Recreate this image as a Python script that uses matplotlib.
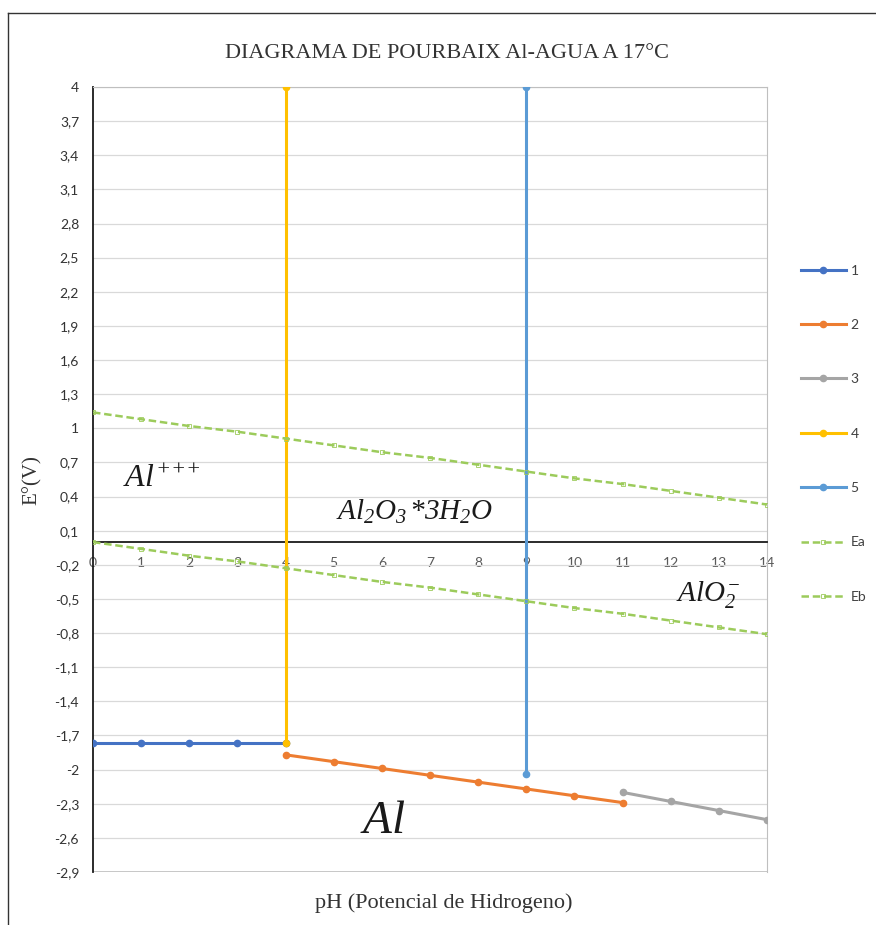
import matplotlib
matplotlib.use("Agg")
import matplotlib.pyplot as plt
from matplotlib.lines import Line2D
import numpy as np

# ---- data ----
x1 = [0, 1, 2, 3, 4]
y1 = [-1.77, -1.77, -1.77, -1.77, -1.77]
x2 = [4, 5, 6, 7, 8, 9, 10, 11]
y2 = [-1.87, -1.93, -1.99, -2.05, -2.11, -2.17, -2.23, -2.29]
x3 = [11, 12, 13, 14]
y3 = [-2.20, -2.28, -2.36, -2.44]
x4 = [4, 4]
y4 = [-1.77, 4.0]
x5 = [9, 9]
y5 = [-2.04, 4.0]
xE = [0, 1, 2, 3, 4, 5, 6, 7, 8, 9, 10, 11, 12, 13, 14]
yEa = [1.14, 1.08, 1.02, 0.97, 0.91, 0.85, 0.79, 0.74, 0.68, 0.62, 0.56, 0.51, 0.45, 0.39, 0.33]
yEb = [0.00, -0.06, -0.12, -0.17, -0.23, -0.29, -0.35, -0.40, -0.46, -0.52, -0.58, -0.63, -0.69, -0.75, -0.81]
series_labels = ["1", "2", "3", "4", "5", "Ea", "Eb"]
y_ticks = [round(-2.9 + 0.3 * i, 1) for i in range(24)]
x_ticks = list(range(15))
title = "DIAGRAMA DE POURBAIX Al-AGUA A 17°C"
xlabel = "pH (Potencial de Hidrogeno)"
ylabel = "E°(V)"

plt.rcParams['mathtext.fontset'] = 'custom'
plt.rcParams['mathtext.it'] = 'Liberation Serif:italic'
plt.rcParams['mathtext.rm'] = 'Liberation Serif:italic'
plt.rcParams['mathtext.default'] = 'it'

W, H = 876, 925
fig = plt.figure(figsize=(W / 100, H / 100), dpi=100)
L, R, T, B = 93, 767, 87, 872
ax = fig.add_axes([L / W, 1 - B / H, (R - L) / W, (B - T) / H])

c1, c2, c3, c4, c5, cg = "#4472C4", "#ED7D31", "#A5A5A5", "#FFC000", "#5B9BD5", "#9CCB5B"

ax.plot(x1, y1, color=c1, lw=2.2, marker='o', ms=4.5, label=series_labels[0], zorder=3)
ax.plot(x2, y2, color=c2, lw=2.2, marker='o', ms=4.5, label=series_labels[1], zorder=3)
ax.plot(x3, y3, color=c3, lw=2.2, marker='o', ms=4.5, label=series_labels[2], zorder=3)
ax.plot(x4, y4, color=c4, lw=2.2, marker='o', ms=4.5, label=series_labels[3], zorder=3)
ax.plot(x5, y5, color=c5, lw=2.2, marker='o', ms=4.5, label=series_labels[4], zorder=3)
ax.plot(xE, yEa, color=cg, lw=1.8, ls=(0, (3, 1.5)), marker='s', ms=3, mfc='none', mew=0.6,
        label=series_labels[5], zorder=4)
ax.plot(xE, yEb, color=cg, lw=1.8, ls=(0, (3, 1.5)), marker='s', ms=3, mfc='none', mew=0.6,
        label=series_labels[6], zorder=4)

ax.set_xlim(0, 14)
ax.set_ylim(-2.9, 4.0)
ax.set_yticks(y_ticks)
ax.set_yticklabels([("%g" % v).replace('.', ',') for v in y_ticks])
ax.set_xticks(x_ticks)
ax.set_xticklabels([str(v) for v in x_ticks])
ax.grid(axis='y', color='#D9D9D9', lw=0.9, zorder=0)
ax.set_axisbelow(True)

ax.spines['bottom'].set_position(('data', 0))
ax.spines['bottom'].set_color('#1a1a1a')
ax.spines['bottom'].set_linewidth(1.3)
ax.spines['left'].set_color('#1a1a1a')
ax.spines['left'].set_linewidth(1.3)
ax.spines['top'].set_color('#BFBFBF')
ax.spines['right'].set_color('#BFBFBF')
ax.axhline(-2.9, color='#BFBFBF', lw=1.2, zorder=1)

ax.tick_params(axis='x', length=0, pad=11, labelsize=10, labelcolor='#595959')
ax.tick_params(axis='y', length=0, pad=10, labelsize=10, labelcolor='#333333')
for lab in ax.get_xticklabels() + ax.get_yticklabels():
    lab.set_fontfamily('Lato')

# annotations
ax.text(0.62, 0.48, r'$Al^{{+}{+}{+}}$', fontsize=23, color='#1a1a1a', zorder=5)
ax.text(5.05, 0.2, r'$Al_2O_3\,{*}3H_2O$', fontsize=21, color='#1a1a1a', zorder=5)
ax.text(12.1, -0.52, r'$AlO_2^{-}$', fontsize=21, color='#1a1a1a', zorder=5)
ax.text(5.55, -2.56, r'$Al$', fontsize=34, color='#1a1a1a', zorder=5)

fig.text(447 / W, 1 - 53 / H, title, ha='center', va='center', fontsize=16,
         family='Liberation Serif', color='#333333')
fig.text(444 / W, 1 - 903 / H, xlabel, ha='center', va='center', fontsize=16,
         family='Liberation Serif', color='#333333')
fig.text(32 / W, 1 - 480 / H, ylabel, ha='center', va='center', rotation=90, fontsize=15,
         family='Liberation Serif', color='#333333')

leg = fig.legend(loc='upper left', bbox_to_anchor=(795 / W, 1 - 259 / H), frameon=False,
                 handlelength=3.3, labelspacing=3.05, handletextpad=0.3,
                 numpoints=1, borderaxespad=0, prop={'family': 'Lato', 'size': 10})
for t in leg.get_texts():
    t.set_color('#404040')

# outer chart frame
fig.add_artist(Line2D([8 / W, 8 / W], [0, 1 - 13 / H], transform=fig.transFigure, color='#333333', lw=1))
fig.add_artist(Line2D([8 / W, 1], [1 - 13 / H, 1 - 13 / H], transform=fig.transFigure, color='#333333', lw=1))

fig.savefig("out.png", dpi=100, facecolor='white')
